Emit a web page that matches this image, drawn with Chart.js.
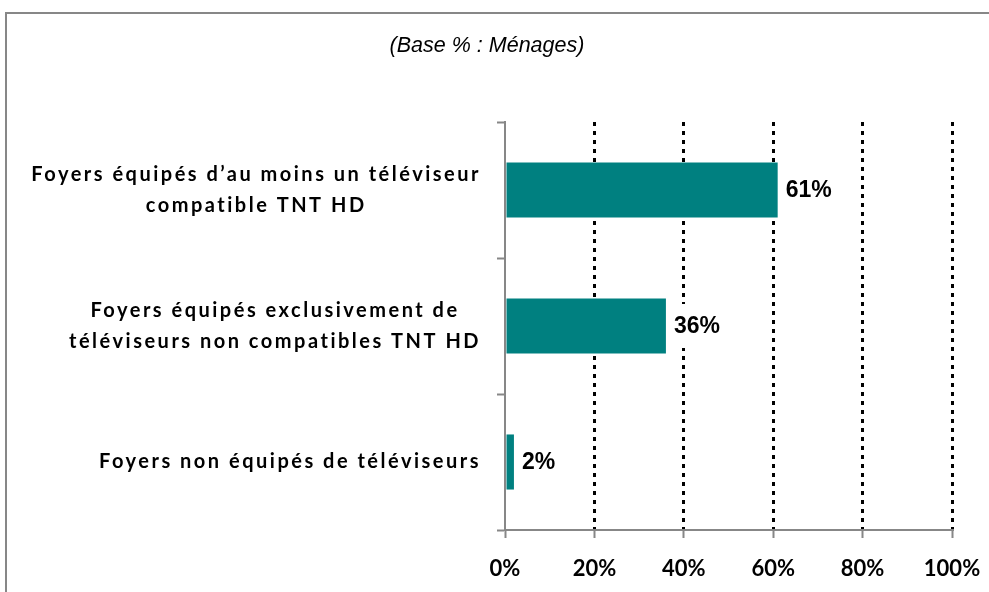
<!DOCTYPE html>
<html lang="fr">
<head>
<meta charset="utf-8">
<title>Équipement TNT HD des foyers</title>
<script src="https://cdn.jsdelivr.net/npm/chart.js@4.4.1/dist/chart.umd.min.js"></script>
<style>
  html, body { margin: 0; padding: 0; background: #fff; overflow: hidden; }
  .wrap { position: relative; width: 989px; height: 592px; }
  .frame {
    position: absolute; left: 5px; top: 12px; right: -10px; bottom: -10px;
    border-top: 2px solid #878787; border-left: 2px solid #878787;
    pointer-events: none;
  }
</style>
</head>
<body>
<div class="wrap">
  <canvas id="tntChart"></canvas>
  <div class="frame"></div>
</div>
<script>
// Chart data
const categories = [
  ['Foyers équipés d’au moins un téléviseur', 'compatible TNT HD'],
  ['Foyers équipés exclusivement de', 'téléviseurs non compatibles TNT HD'],
  ['Foyers non équipés de téléviseurs']
];
const shares = [61, 36, 2];
const xTicks = [0, 20, 40, 60, 80, 100];
const subtitle = '(Base % : Ménages)';

const axisGrey = '#878787';

// Category names: each block right-aligned, its lines centred on each other
const categoryLabels = {
  id: 'categoryLabels',
  afterDraw(chart) {
    const ctx = chart.ctx;
    const y = chart.scales.y;
    const right = y.right - 24;
    ctx.save();
    ctx.font = 'bold 20px Lato';
    ctx.letterSpacing = '2.5px';
    ctx.fillStyle = '#000';
    ctx.textAlign = 'center';
    ctx.textBaseline = 'middle';
    categories.forEach((lines, i) => {
      const cy = y.getPixelForValue(i);
      const block = Math.max(...lines.map(l => ctx.measureText(l).width));
      const cx = right - block / 2;
      lines.forEach((line, j) => {
        ctx.fillText(line, cx, cy + (j - (lines.length - 1) / 2) * 30.5);
      });
    });
    ctx.restore();
  }
};

// Percent labels at the end of each bar, on a white patch over the grid
const valueLabels = {
  id: 'valueLabels',
  afterDraw(chart) {
    const ctx = chart.ctx;
    const meta = chart.getDatasetMeta(0);
    ctx.save();
    ctx.font = 'bold 23px "Liberation Sans", Arial';
    ctx.textAlign = 'left';
    ctx.textBaseline = 'middle';
    meta.data.forEach((bar, i) => {
      const text = shares[i] + '%';
      const w = ctx.measureText(text).width;
      const x = bar.x + 8;
      ctx.fillStyle = '#fff';
      ctx.fillRect(x - 4, bar.y - 22, w + 8, 44);
      ctx.fillStyle = '#000';
      ctx.fillText(text, x, bar.y + 1);
    });
    ctx.restore();
  }
};

const ctx = document.getElementById('tntChart').getContext('2d');

new Chart(ctx, {
  type: 'bar',
  data: {
    labels: categories,
    datasets: [{
      data: shares,
      backgroundColor: '#008080',
      borderWidth: 0,
      barPercentage: 0.405,
      categoryPercentage: 1
    }]
  },
  options: {
    indexAxis: 'y',
    responsive: true,
    maintainAspectRatio: false,
    animation: false,
    layout: { padding: { top: 0, right: 37, bottom: 12, left: 22 } },
    plugins: {
      legend: { display: false },
      tooltip: { enabled: false },
      title: {
        display: true,
        text: subtitle,
        color: '#000',
        font: { family: '"Liberation Sans", Arial', size: 21.5, style: 'italic', weight: 'normal', lineHeight: 1.2 },
        padding: { top: 33, bottom: 63.2 }
      }
    },
    scales: {
      x: {
        min: 0,
        max: 100,
        afterBuildTicks: scale => { scale.ticks = xTicks.map(v => ({ value: v })); },
        afterFit: scale => {
          scale.height = 50;
          scale.paddingLeft = 0;
          scale.paddingRight = 0;
        },
        ticks: {
          callback: v => v + '%',
          color: '#000',
          font: { family: 'Lato', size: 22, weight: 'bold', lineHeight: 1.2 },
          padding: 18,
          maxRotation: 0
        },
        grid: {
          color: c => (c.tick && c.tick.value === 0) ? 'rgba(0,0,0,0)' : '#000',
          lineWidth: 3,
          tickColor: axisGrey,
          tickWidth: 2,
          tickLength: 8,
          tickBorderDash: []
        },
        border: { color: axisGrey, width: 2, dash: [4, 5] }
      },
      y: {
        afterFit: scale => { scale.width = 483; },
        ticks: { display: false },
        grid: {
          drawOnChartArea: false,
          offset: true,
          tickLength: 8,
          tickColor: axisGrey,
          tickWidth: 2
        },
        border: { color: axisGrey, width: 2 }
      }
    }
  },
  plugins: [categoryLabels, valueLabels]
});
</script>
</body>
</html>
